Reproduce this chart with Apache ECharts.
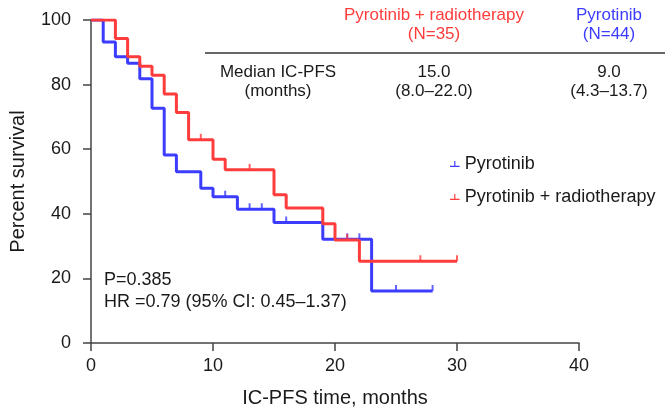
<!DOCTYPE html>
<html>
<head>
<meta charset="utf-8">
<script src="https://cdn.jsdelivr.net/npm/echarts@6/dist/echarts.min.js"></script>
<style>
  html, body { margin: 0; padding: 0; background: #fff; }
  #main { width: 665px; height: 414px; }
</style>
</head>
<body>
<div id="main"></div>
<script>
// 生存曲线数据
var blueName = 'Pyrotinib'
var redName = 'Pyrotinib + radiotherapy'
var blueTimes = [0, 1, 2, 3, 4, 5, 6, 7, 9, 10, 12, 15, 19, 23, 28]
var blueSurv = [100, 93.2, 88.6, 86.6, 81.8, 72.7, 58.2, 53.0, 47.9, 45.3, 41.4, 37.3, 32.1, 16.1, 16.1]
var blueCensor = [11, 13, 14, 16, 21, 22, 25, 28]
var redTimes = [0, 2, 3, 4, 5, 6, 7, 8, 10, 11, 15, 16, 19, 20, 22, 30]
var redSurv = [100, 94.3, 88.6, 85.7, 82.9, 77.1, 71.4, 62.9, 56.9, 53.6, 45.9, 41.8, 36.9, 31.9, 25.3, 25.3]
var redCensor = [9, 13, 21, 27, 30]
var xTicks = [0, 10, 20, 30, 40]
var yTicks = [0, 20, 40, 60, 80, 100]

var blueColor = 'rgb(60,60,255)'
var redColor = 'rgb(255,60,60)'
var font = 'Liberation Sans, Arial, Helvetica, sans-serif'

function pairs (times, surv) {
  var out = []
  for (var i = 0; i < times.length; i++) out.push([times[i], surv[i]])
  return out
}
// 删失点取曲线当前值
function censorPts (times, surv, cens) {
  return cens.map(function (t) {
    var v = surv[0]
    for (var i = 0; i < times.length; i++) {
      if (times[i] <= t) v = surv[i]
    }
    return [t, v]
  })
}
function txt (x, y, s, color, size, align) {
  return {
    type: 'text', x: x, y: y,
    style: { text: s, fill: color, font: size + 'px ' + font, align: align || 'center', verticalAlign: 'middle' }
  }
}

var iconPath = 'path://M0,10 H20 V12.5 H0 Z M8.8,0 H11.2 V10 H8.8 Z'
var ink = '#1a1a1a'

var myChart = echarts.init(document.getElementById('main'))
var option = {
  animation: false,
  textStyle: { fontFamily: font },
  grid: { left: 91, right: 86, top: 20, bottom: 71, outerBoundsMode: 'none' },
  legend: {
    orient: 'vertical',
    left: 445,
    top: 150,
    itemWidth: 10,
    itemHeight: 6,
    itemGap: 15,
    textStyle: { fontSize: 18, lineHeight: 18, color: ink, fontFamily: font },
    data: [
      { name: blueName, icon: iconPath, itemStyle: { color: blueColor } },
      { name: redName, icon: iconPath, itemStyle: { color: redColor } }
    ]
  },
  xAxis: {
    type: 'value',
    min: xTicks[0],
    max: xTicks[xTicks.length - 1],
    interval: 10,
    name: 'IC-PFS time, months',
    nameLocation: 'middle',
    nameGap: 45,
    nameTextStyle: { fontSize: 20, color: ink, fontFamily: font },
    axisLine: { lineStyle: { color: '#444', width: 1.5 } },
    axisTick: { length: 8, lineStyle: { color: '#444', width: 1.5 } },
    axisLabel: { fontSize: 18, color: ink, margin: 14, fontFamily: font },
    splitLine: { show: false }
  },
  yAxis: {
    type: 'value',
    min: yTicks[0],
    max: yTicks[yTicks.length - 1],
    interval: 20,
    name: 'Percent survival',
    nameLocation: 'middle',
    nameGap: 63,
    nameTextStyle: { fontSize: 20, color: ink, fontFamily: font },
    axisLine: { show: true, lineStyle: { color: '#444', width: 1.5 } },
    axisTick: { show: true, length: 8, lineStyle: { color: '#444', width: 1.5 } },
    axisLabel: { fontSize: 18, color: ink, margin: 20, fontFamily: font },
    splitLine: { show: false }
  },
  graphic: [
    txt(434, 15, 'Pyrotinib + radiotherapy', redColor, 17),
    txt(434, 34, '(N=35)', redColor, 17),
    txt(609, 15, 'Pyrotinib', blueColor, 17),
    txt(609, 34, '(N=44)', blueColor, 17),
    { type: 'line', shape: { x1: 205, y1: 53, x2: 665, y2: 53 }, style: { stroke: '#333', lineWidth: 1.5 } },
    txt(278, 72, 'Median IC-PFS', ink, 17),
    txt(278, 91, '(months)', ink, 17),
    txt(434, 72, '15.0', ink, 17),
    txt(434, 91, '(8.0\u201322.0)', ink, 17),
    txt(609, 72, '9.0', ink, 17),
    txt(609, 91, '(4.3\u201313.7)', ink, 17),
    txt(104, 280, 'P=0.385', ink, 18, 'left'),
    txt(104, 302, 'HR =0.79 (95% CI: 0.45\u20131.37)', ink, 18, 'left')
  ],
  series: [
    {
      name: blueName,
      type: 'line',
      step: 'end',
      symbol: 'none',
      color: blueColor,
      lineStyle: { color: blueColor, width: 3 },
      data: pairs(blueTimes, blueSurv),
      z: 2
    },
    {
      name: redName,
      type: 'line',
      step: 'end',
      symbol: 'none',
      color: redColor,
      lineStyle: { color: redColor, width: 3 },
      data: pairs(redTimes, redSurv),
      z: 3
    },
    {
      name: 'blueCensor',
      type: 'scatter',
      symbol: 'rect',
      symbolSize: [2, 6],
      symbolOffset: [0, -3],
      itemStyle: { color: blueColor },
      data: censorPts(blueTimes, blueSurv, blueCensor),
      z: 4
    },
    {
      name: 'redCensor',
      type: 'scatter',
      symbol: 'rect',
      symbolSize: [2, 6],
      symbolOffset: [0, -3],
      itemStyle: { color: redColor },
      data: censorPts(redTimes, redSurv, redCensor),
      z: 4
    }
  ]
}
myChart.setOption(option)
</script>
</body>
</html>
